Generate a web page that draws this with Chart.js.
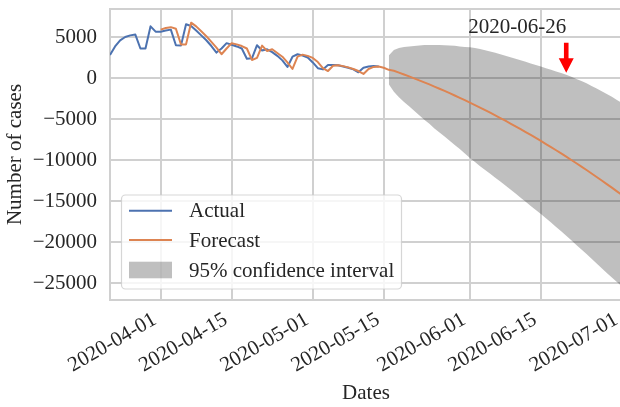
<!DOCTYPE html>
<html>
<head>
<meta charset="utf-8">
<script src="https://cdn.jsdelivr.net/npm/chart.js@4.4.1/dist/chart.umd.min.js"></script>
<style>
  html, body { margin: 0; padding: 0; background: #ffffff; overflow: hidden; }
  #wrap { width: 622px; height: 407px; }
</style>
</head>
<body>
<div id="wrap"><canvas id="chart" width="622" height="407"></canvas></div>
<script>
// Daily reported cases, starting at actualStart
const actualStart = '2020-03-22';
const actualValues = [
  2800, 3850, 4600, 5000, 5200, 5300, 3600, 3600, 6300, 5650,
  5650, 5800, 5900, 4000, 3950, 6550, 6350, 5800, 5200, 4600,
  3900, 3100, 3600, 4250, 4050, 3850, 3600, 2350, 2400, 4000,
  3350, 3500, 3150, 2700, 2150, 1350, 2600, 2900, 2750, 2500,
  1900, 1200, 1050, 1600, 1600, 1550, 1400, 1250, 1050, 700,
  1250, 1400, 1450, 1400
];

// Model output: one-step fit followed by the out-of-sample forecast
const forecastStart = '2020-04-01';
const forecastValues = [
  5900, 6100, 6200, 6000, 4100, 4100, 6750, 6300, 5700, 5100,
  4400, 3700, 2900, 3600, 4250, 4100, 3900, 3600, 2200, 2450,
  3950, 3300, 3500, 3050, 2600, 1900, 1100, 2600, 2850, 2700,
  2450, 1950, 1200, 850, 1500, 1550, 1450, 1300, 1100, 850,
  500, 1100, 1350, 1400, 1250,
  1000, 883, 660, 433, 200, -38, -282, -530, -784, -1043,
  -1307, -1576, -1850, -2130, -2415, -2705, -3000, -3300, -3606, -3917,
  -4232, -4554, -4880, -5211, -5548, -5890, -6237, -6589, -6947, -7309,
  -7677, -8051, -8429, -8812, -9201, -9595, -9994, -10398, -10807, -11222,
  -11642, -12067, -12497, -12932, -13373, -13819, -14269
];

// 95% confidence band of the forecast
const intervalStart = '2020-05-16';
const intervalUpper = [
  2750, 3430, 3660, 3780, 3850, 3910, 3970, 4020, 4020, 4030,
  4030, 3980, 3950, 3920, 3835, 3795, 3750, 3650, 3540, 3400,
  3240, 3070, 2900, 2720, 2540, 2350, 2160, 1970, 1780, 1590,
  1400, 1200, 1000, 800, 600, 400, 150, -110, -380, -650,
  -960, -1280, -1610, -1950, -2300, -2670, -3050
];
const intervalLower = [
  -750, -1667, -2340, -2917, -3450, -3988, -4532, -5080, -5584, -6143,
  -6657, -7126, -7650, -8180, -8665, -9205, -9750, -10250, -10756, -11217,
  -11682, -12154, -12630, -13111, -13598, -14090, -14587, -15089, -15597, -16109,
  -16577, -17101, -17629, -18162, -18701, -19245, -19794, -20348, -20907, -21472,
  -22042, -22617, -23197, -23782, -24323, -24869, -25419
];

const seriesNames = ['Actual', 'Forecast', '95% confidence interval'];
const xRange = ['2020-03-22', '2020-07-01'];
const xTickDates = ['2020-04-01', '2020-04-15', '2020-05-01', '2020-05-15', '2020-06-01', '2020-06-15', '2020-07-01'];
const yRange = [-27070, 8415];
const yTicks = [-25000, -20000, -15000, -10000, -5000, 0, 5000];
const xTitle = 'Dates';
const yTitle = 'Number of cases';

// Callout above the band
const noteText = '2020-06-26';
const noteDate = '2020-06-20';
const noteArrowFrom = 4300;
const noteArrowTo = 650;
const noteTextValue = 5450;

const DAY = 86400000;
const dayNum = s => Date.UTC(+s.slice(0, 4), +s.slice(5, 7) - 1, +s.slice(8, 10)) / DAY;
const toPoints = (start, vals) => vals.map((v, i) => ({ x: dayNum(start) + i, y: v }));
const fmtNum = v => (v < 0 ? '\u2212' + Math.abs(v) : String(v));

const FONT = 'Liberation Serif';
const FSIZE = 21;
const CSS_FONT = FSIZE + 'px "' + FONT + '"';
const TEXT = '#262626';
const GRID = '#d0d0d0';
const BLUE = '#4c72b0';
const ORANGE = '#dd8452';
const BAND = 'rgba(0,0,0,0.25)';

// Light frame around the plotting area
const framePlugin = {
  id: 'frame',
  beforeDatasetsDraw(chart) {
    const { ctx, chartArea: a } = chart;
    ctx.save();
    ctx.strokeStyle = GRID;
    ctx.lineWidth = 2;
    ctx.strokeRect(a.left, a.top, a.right - a.left, a.bottom - a.top);
    ctx.restore();
  }
};

// Date labels under the axis, slanted 30 degrees and right-aligned to their tick
const dateLabelPlugin = {
  id: 'dateLabels',
  afterDraw(chart) {
    const { ctx, scales: { x }, chartArea: a } = chart;
    ctx.save();
    ctx.font = CSS_FONT;
    ctx.fillStyle = TEXT;
    ctx.textAlign = 'right';
    ctx.textBaseline = 'alphabetic';
    xTickDates.forEach(d => {
      const px = x.getPixelForValue(dayNum(d));
      ctx.save();
      ctx.translate(px - 3, a.bottom + 23);
      ctx.rotate(-Math.PI / 6);
      ctx.fillText(d, 0, 0);
      ctx.restore();
    });
    ctx.restore();
  }
};

// Arrow and date label
const notePlugin = {
  id: 'note',
  afterDatasetsDraw(chart) {
    const { ctx, scales: { x, y } } = chart;
    const px = x.getPixelForValue(dayNum(noteDate));
    const yFrom = y.getPixelForValue(noteArrowFrom);
    const yTo = y.getPixelForValue(noteArrowTo);
    const head = 14.5, halfHead = 7.5, halfShaft = 2.3;
    ctx.save();
    ctx.fillStyle = '#ff0000';
    ctx.beginPath();
    ctx.moveTo(px - halfShaft, yFrom);
    ctx.lineTo(px + halfShaft, yFrom);
    ctx.lineTo(px + halfShaft, yTo - head);
    ctx.lineTo(px + halfHead, yTo - head);
    ctx.lineTo(px, yTo);
    ctx.lineTo(px - halfHead, yTo - head);
    ctx.lineTo(px - halfShaft, yTo - head);
    ctx.closePath();
    ctx.fill();
    ctx.fillStyle = TEXT;
    ctx.font = CSS_FONT;
    ctx.textAlign = 'right';
    ctx.textBaseline = 'alphabetic';
    ctx.fillText(noteText, px, y.getPixelForValue(noteTextValue));
    ctx.restore();
  }
};

// Legend box in the lower left of the plot
const legendPlugin = {
  id: 'boxLegend',
  afterDraw(chart) {
    const { ctx, chartArea: a } = chart;
    const bx = a.left + 11.5, bw = 280, bh = 94;
    const by = a.bottom - 11 - bh;
    ctx.save();
    ctx.beginPath();
    ctx.roundRect(bx, by, bw, bh, 4);
    ctx.fillStyle = 'rgba(255,255,255,0.8)';
    ctx.fill();
    ctx.strokeStyle = 'rgba(204,204,204,0.8)';
    ctx.lineWidth = 1.2;
    ctx.stroke();
    const hx0 = bx + 7.5, hx1 = bx + 50.5, tx = bx + 67.5;
    const rows = [by + 15.7, by + 45, by + 75];
    ctx.font = CSS_FONT;
    ctx.textBaseline = 'middle';
    ctx.textAlign = 'left';
    const ds = chart.data.datasets;
    [0, 1].forEach((k, i) => {
      ctx.strokeStyle = ds[k].borderColor;
      ctx.lineWidth = 2;
      ctx.beginPath();
      ctx.moveTo(hx0, rows[i]);
      ctx.lineTo(hx1, rows[i]);
      ctx.stroke();
    });
    ctx.fillStyle = ds[2].backgroundColor;
    ctx.fillRect(hx0, rows[2] - 8.3, hx1 - hx0, 16.6);
    ctx.fillStyle = TEXT;
    seriesNames.forEach((n, i) => ctx.fillText(n, tx, rows[i] + 1));
    ctx.restore();
  }
};

new Chart(document.getElementById('chart'), {
  type: 'line',
  data: {
    datasets: [
      { label: seriesNames[0], data: toPoints(actualStart, actualValues), borderColor: BLUE,
        borderWidth: 2, pointRadius: 0, tension: 0, fill: false, order: 1,
        borderJoinStyle: 'round' },
      { label: seriesNames[1], data: toPoints(forecastStart, forecastValues), borderColor: ORANGE,
        borderWidth: 2, pointRadius: 0, tension: 0, fill: false, order: 0,
        borderJoinStyle: 'round' },
      { label: seriesNames[2], data: toPoints(intervalStart, intervalUpper), borderWidth: 0,
        borderColor: 'rgba(0,0,0,0)', backgroundColor: BAND, pointRadius: 0, fill: '+1', order: 2 },
      { label: seriesNames[2] + ' lower', data: toPoints(intervalStart, intervalLower), borderWidth: 0,
        borderColor: 'rgba(0,0,0,0)', backgroundColor: BAND, pointRadius: 0, fill: false, order: 3 }
    ]
  },
  options: {
    responsive: false,
    animation: false,
    events: [],
    layout: { padding: { top: 9, right: 0, left: 0, bottom: 0 } },
    plugins: { legend: { display: false }, tooltip: { enabled: false } },
    scales: {
      x: {
        type: 'linear',
        min: dayNum(xRange[0]),
        max: dayNum(xRange[1]),
        afterBuildTicks: s => { s.ticks = xTickDates.map(d => ({ value: dayNum(d) })); },
        afterFit: s => { s.height = 107; s.paddingLeft = 0; s.paddingRight = 0; },
        grid: { color: GRID, lineWidth: 2, drawTicks: false },
        border: { display: false },
        ticks: { display: false },
        title: { display: true, text: xTitle, color: TEXT, font: { family: FONT, size: FSIZE },
          padding: { top: 0, bottom: 1 } }
      },
      y: {
        type: 'linear',
        min: yRange[0],
        max: yRange[1],
        afterBuildTicks: s => { s.ticks = yTicks.map(v => ({ value: v })); },
        afterFit: s => { s.width = 110; s.paddingTop = 0; s.paddingBottom = 0; },
        grid: { color: GRID, lineWidth: 2, drawTicks: false },
        border: { display: false },
        ticks: { callback: v => fmtNum(v), padding: 13, color: TEXT, font: { family: FONT, size: FSIZE } },
        title: { display: true, text: yTitle, color: TEXT, font: { family: FONT, size: FSIZE },
          padding: { top: 3, bottom: 0 } }
      }
    }
  },
  plugins: [framePlugin, dateLabelPlugin, notePlugin, legendPlugin]
});
</script>
</body>
</html>
